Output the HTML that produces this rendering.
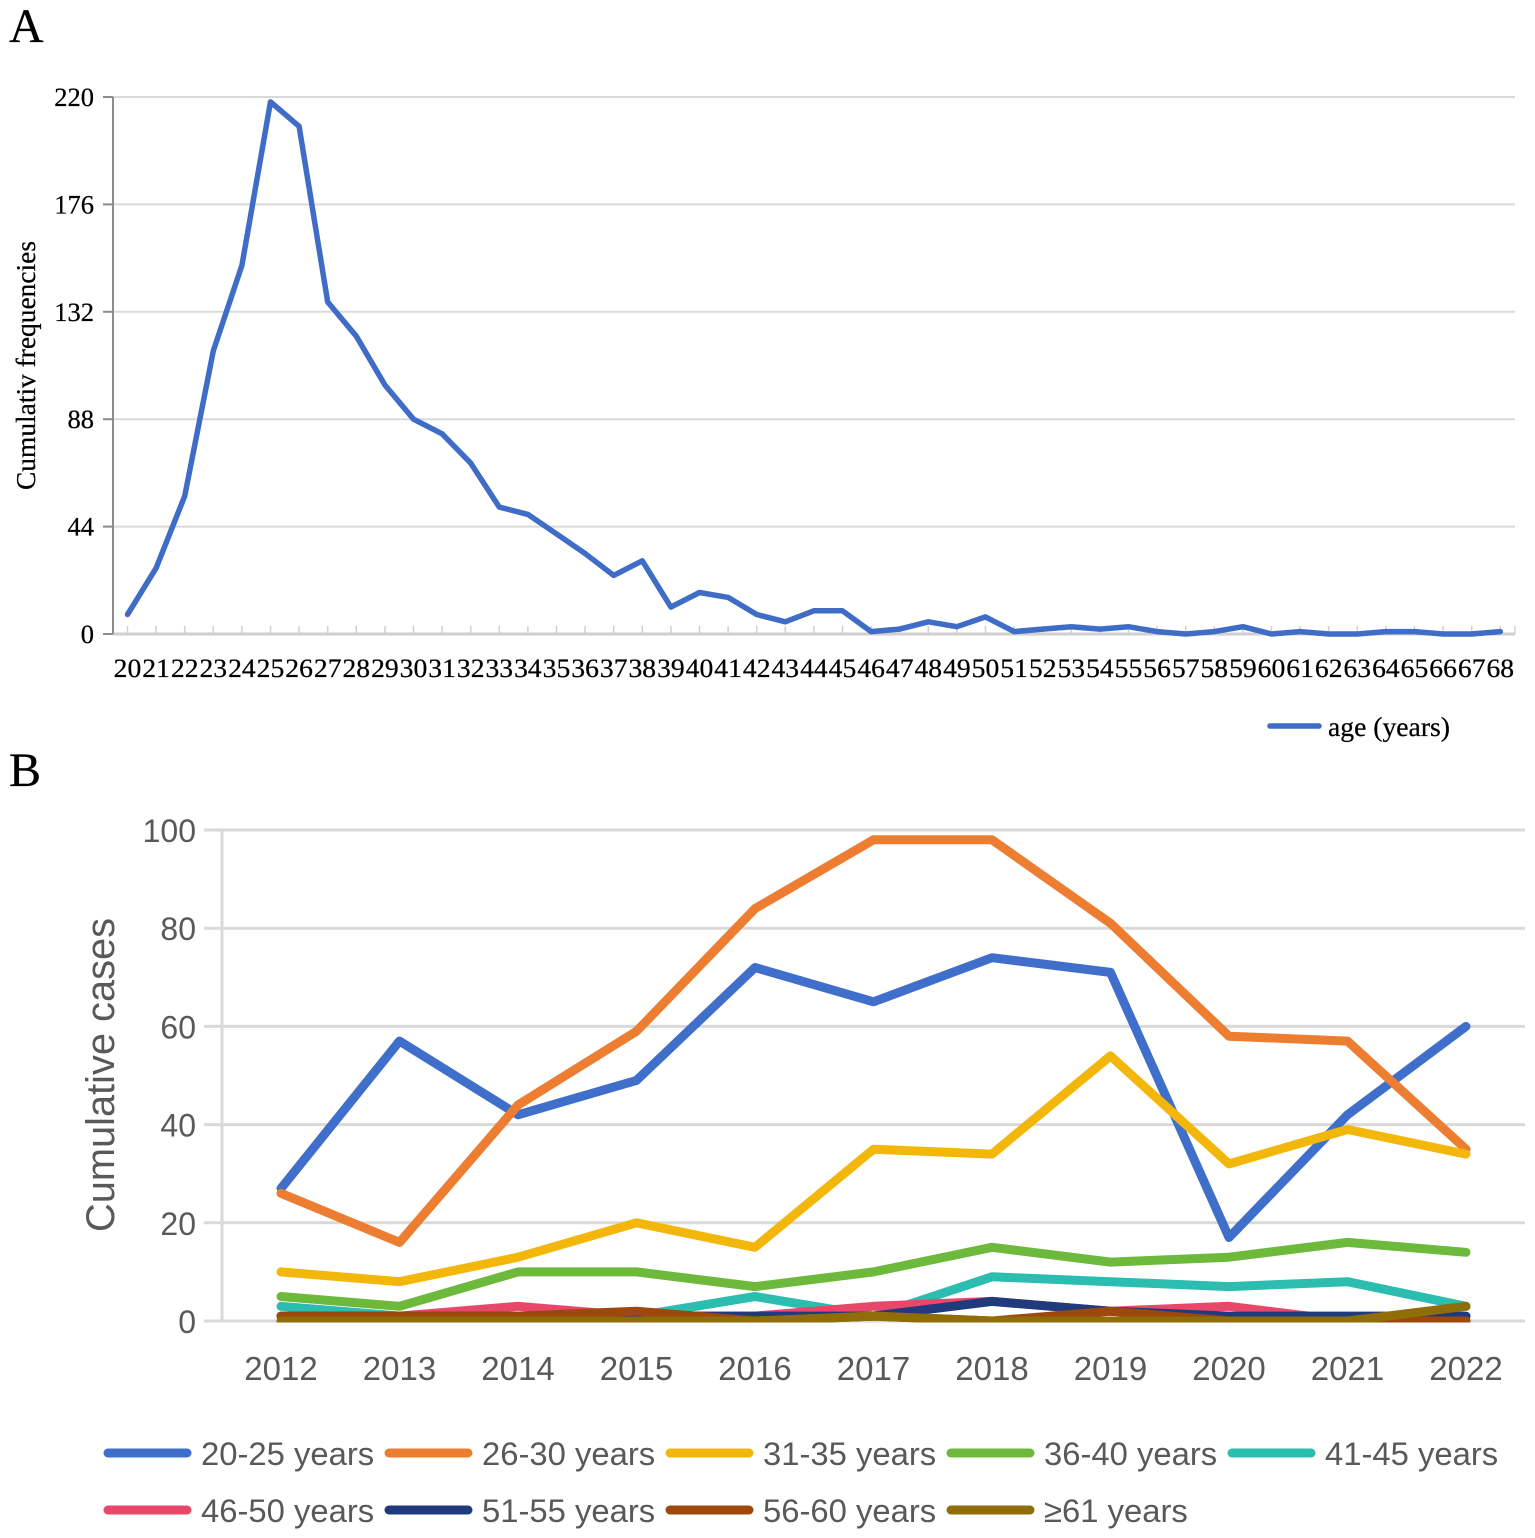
<!DOCTYPE html>
<html lang="en">
<head>
<meta charset="utf-8">
<title>Age distribution and cumulative cases</title>
<style>
html,body{margin:0;padding:0;background:#fff;}
body{width:1535px;height:1538px;overflow:hidden;}
svg{display:block;}
.serif{font-family:"Liberation Serif",serif;fill:#000;stroke:#000;stroke-width:0.25px;}
.sans{font-family:"Liberation Sans",sans-serif;fill:#595959;}
</style>
</head>
<body>
<svg id="figure" width="1535" height="1538" viewBox="0 0 1535 1538" xmlns="http://www.w3.org/2000/svg">
  <defs>
    <clipPath id="plotClipB"><rect x="0" y="780" width="1535" height="542.5"/></clipPath>
  </defs>
  <rect width="1535" height="1538" fill="#fff"/>
  <text class="serif" x="9" y="42" font-size="48">A</text>
  <text class="serif" x="9" y="786" font-size="48">B</text>

  <g id="chartA"></g>
  <text class="serif" transform="translate(35,490) rotate(-90)" font-size="27" textLength="249" lengthAdjust="spacingAndGlyphs">Cumulativ frequencies</text>
  <line x1="1270" y1="726" x2="1319" y2="726" stroke="#3f6cc6" stroke-width="5.5" stroke-linecap="round"/>
  <text class="serif" x="1328" y="736" font-size="27" textLength="122" lengthAdjust="spacingAndGlyphs">age (years)</text>

  <g id="chartB"></g>
  <text class="sans" transform="translate(114,1232) rotate(-90)" font-size="40" textLength="314" lengthAdjust="spacingAndGlyphs">Cumulative cases</text>
  <g id="legendB"></g>
</svg>

<script>
// Chart A data
const ageCategories = [20,21,22,23,24,25,26,27,28,29,30,31,32,33,34,35,36,37,38,39,40,41,42,43,44,45,46,47,48,49,50,51,52,53,54,55,56,57,58,59,60,61,62,63,64,65,66,67,68];
const ageFrequencies = [8,27,56.5,116,151,218,208,136,122,102,88,82,70,52,49,41,33,24,30,11,17,15,8,5,9.5,9.5,1,2,5,3,7,1,2,3,2,3,1,0,1,3,0,1,0,0,1,1,0,0,1];
const ageYTicks = [0,44,88,132,176,220];

// Chart B data
const years = [2012,2013,2014,2015,2016,2017,2018,2019,2020,2021,2022];
const casesYTicks = [0,20,40,60,80,100];
const seriesNames = ["20-25 years","26-30 years","31-35 years","36-40 years","41-45 years","46-50 years","51-55 years","56-60 years","≥61 years"];
const cases20to25 = [27,57,42,49,72,65,74,71,17,42,60];
const cases26to30 = [26,16,44,59,84,98,98,81,58,57,35];
const cases31to35 = [10,8,13,20,15,35,34,54,32,39,34];
const cases36to40 = [5,3,10,10,7,10,15,12,13,16,14];
const cases41to45 = [3,1,1,1,5,1,9,8,7,8,3];
const cases46to50 = [1,1,3,1,1,3,4,2,3,0,0];
const cases51to55 = [1,1,1,1,1,1,4,2,1,1,1];
const cases56to60 = [1,1,1,2,0,1,0,2,0,0,0];
const cases61plus = [0,0,0,0,0,1,0,0,0,0,3];
const seriesColors = ["#3f6fca","#ed7d31","#f3b70b","#6cb93c","#2bbdb0","#e8476a","#1f3a7d","#9e480e","#8f6d08"];

const NS = "http://www.w3.org/2000/svg";
function make(parent, tag, props, text) {
  const el = document.createElementNS(NS, tag);
  for (const k in props) el.setAttribute(k, props[k]);
  if (text !== undefined) el.textContent = text;
  parent.appendChild(el);
  return el;
}

// ---------- Chart A ----------
(function () {
  const g = document.getElementById("chartA");
  const x0 = 127.5, step = 28.6, yBase = 634, yTop = 97, axisLeft = 113, axisRight = 1515;
  const maxV = ageYTicks[ageYTicks.length - 1];
  const xA = i => x0 + i * step;
  const yA = v => yBase - (v / maxV) * (yBase - yTop);

  ageYTicks.forEach(t => {
    if (t !== 0) {
      const grid = make(g, "line", {x1: axisLeft, x2: axisRight, y1: yA(t), y2: yA(t), stroke: "#d9d9d9", "stroke-width": 2});
      
      
    }
    const tick = make(g, "line", {x1: 103, x2: axisLeft, y1: yA(t), y2: yA(t), stroke: "#8c8c8c", "stroke-width": 2});
    
    
    const label = make(g, "text", {x: 94, y: yA(t) + 9, "text-anchor": "end", "font-size": 26.5, class: "serif"}, String(t));
    
    
  });

  ageCategories.forEach((c, i) => {
    const tick = make(g, "line", {x1: xA(i), x2: xA(i), y1: yBase - 8, y2: yBase, stroke: "#d0d0d0", "stroke-width": 1.5});
    
    
    const label = make(g, "text", {x: xA(i), y: 677, "text-anchor": "middle", "font-size": 26, class: "serif", textLength: 27.6, lengthAdjust: "spacingAndGlyphs"}, String(c));
    
    
  });
  const endTick = make(g, "line", {x1: axisRight, x2: axisRight, y1: yBase - 8, y2: yBase, stroke: "#d0d0d0", "stroke-width": 1.5});
  
  

  const xAxis = make(g, "line", {x1: axisLeft, x2: axisRight, y1: yBase, y2: yBase, stroke: "#cfcfcf", "stroke-width": 3});
  
  
  const yAxis = make(g, "line", {x1: axisLeft, x2: axisLeft, y1: yTop, y2: yBase, stroke: "#8c8c8c", "stroke-width": 2});
  
  

  const pts = ageFrequencies.map((v, i) => xA(i).toFixed(1) + "," + yA(v).toFixed(1)).join(" ");
  const line = make(g, "polyline", {points: pts, fill: "none", stroke: "#3f6cc6", "stroke-width": 5.5, "stroke-linejoin": "round", "stroke-linecap": "round"});
  
  
})();

// ---------- Chart B ----------
(function () {
  const g = document.getElementById("chartB");
  const x0 = 281, step = 118.5, yBase = 1321, yTop = 830, axisLeft = 222, axisRight = 1525;
  const maxV = casesYTicks[casesYTicks.length - 1];
  const xB = i => x0 + i * step;
  const yB = v => yBase - (v / maxV) * (yBase - yTop);
  const allSeries = [cases20to25, cases26to30, cases31to35, cases36to40, cases41to45, cases46to50, cases51to55, cases56to60, cases61plus];

  casesYTicks.forEach(t => {
    const grid = make(g, "line", {x1: 204, x2: axisRight, y1: yB(t), y2: yB(t), stroke: "#d9d9d9", "stroke-width": 3});
    
    
    const label = make(g, "text", {x: 196, y: yB(t) + 12, "text-anchor": "end", "font-size": 32, class: "sans"}, String(t));
    
    
  });
  const yAxis = make(g, "line", {x1: axisLeft, x2: axisLeft, y1: yTop, y2: yBase, stroke: "#d9d9d9", "stroke-width": 3});
  
  

  years.forEach((yr, i) => {
    const label = make(g, "text", {x: xB(i), y: 1380, "text-anchor": "middle", "font-size": 33, class: "sans"}, String(yr));
    
    
  });

  allSeries.forEach((vals, s) => {
    const pts = vals.map((v, i) => xB(i).toFixed(1) + "," + yB(v).toFixed(1)).join(" ");
    const line = make(g, "polyline", {points: pts, fill: "none", stroke: seriesColors[s], "stroke-width": 9, "stroke-linejoin": "round", "stroke-linecap": "round", "clip-path": "url(#plotClipB)"});
    
    
  });

  const lg = document.getElementById("legendB");
  seriesNames.forEach((name, s) => {
    const col = s % 5, row = Math.floor(s / 5);
    const left = 105 + col * 281, yMid = 1453 + row * 57;
    const swatch = make(lg, "line", {x1: left + 3, x2: left + 82, y1: yMid, y2: yMid, stroke: seriesColors[s], "stroke-width": 9, "stroke-linecap": "round"});
    
    
    const label = make(lg, "text", {x: left + 96, y: yMid + 12, "font-size": 32.8, class: "sans"}, name);
    
    
  });
})();
</script>
</body>
</html>
